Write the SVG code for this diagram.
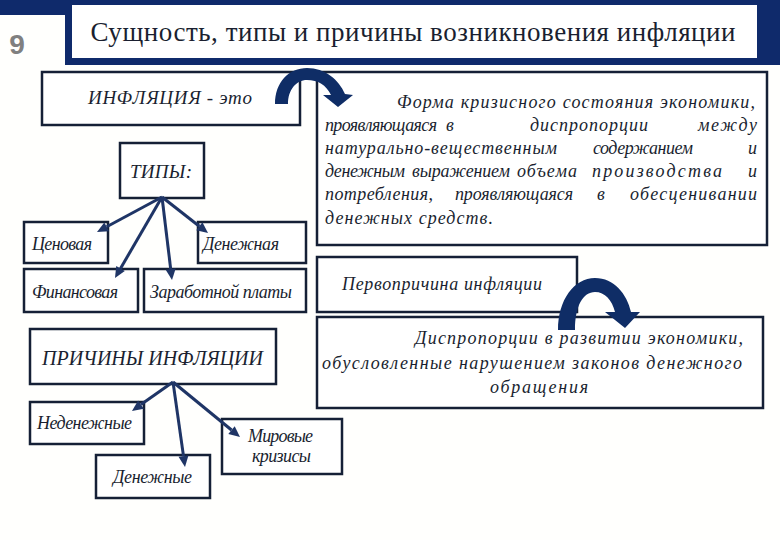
<svg xmlns="http://www.w3.org/2000/svg" width="780" height="540" viewBox="0 0 780 540">
<defs>
<style>
.box{fill:#ffffff;stroke:#152036;stroke-width:2.5}
.con{stroke:#1f3566;stroke-width:3;fill:none}
.head{fill:#1f3566}
.navy{fill:#0f2a6b}
.curve{fill:#0f2d66}
</style>
</defs>
<rect width="780" height="540" fill="#fffffd"/>

<g id="header">
<rect class="navy" x="0" y="0" width="780" height="15"/>
<rect class="navy" x="65" y="0" width="715" height="65"/>
<rect x="72" y="5" width="685" height="53" fill="#ffffff"/>
<text x="413" y="41" text-anchor="middle" font-family="Liberation Serif, serif" font-size="27" fill="#1a1f30" textLength="645" lengthAdjust="spacing">Сущность, типы и причины возникновения инфляции</text>
<text x="17" y="54" text-anchor="middle" font-family="Liberation Sans, Arial, sans-serif" font-weight="bold" font-size="28" fill="#808080">9</text>
</g>

<g id="nodes">

<g id="node-inflation">
<rect class="box" x="42" y="72" width="258" height="53"/>
<text x="88" y="104" font-family="Liberation Serif, serif" font-style="italic" font-size="19" fill="#1a1f30" textLength="164" lengthAdjust="spacing">ИНФЛЯЦИЯ - это</text>
</g>

<g id="node-definition">
<rect class="box" x="317" y="72" width="450" height="173"/>
<text x="397" y="108" font-family="Liberation Serif, serif" font-style="italic" font-size="18" fill="#1a1f30" textLength="358" lengthAdjust="spacing">Форма кризисного состояния экономики,</text>
<text x="325" y="131" font-family="Liberation Serif, serif" font-style="italic" font-size="18" fill="#1a1f30" textLength="112" lengthAdjust="spacing">проявляющаяся</text>
<text x="446" y="131" font-family="Liberation Serif, serif" font-style="italic" font-size="18" fill="#1a1f30">в</text>
<text x="530" y="131" font-family="Liberation Serif, serif" font-style="italic" font-size="18" fill="#1a1f30" textLength="118" lengthAdjust="spacing">диспропорции</text>
<text x="698" y="131" font-family="Liberation Serif, serif" font-style="italic" font-size="18" fill="#1a1f30" textLength="59" lengthAdjust="spacing">между</text>
<text x="325" y="154" font-family="Liberation Serif, serif" font-style="italic" font-size="18" fill="#1a1f30" textLength="232" lengthAdjust="spacing">натурально-вещественным</text>
<text x="593" y="154" font-family="Liberation Serif, serif" font-style="italic" font-size="18" fill="#1a1f30" textLength="100" lengthAdjust="spacing">содержанием</text>
<text x="757" y="154" font-family="Liberation Serif, serif" font-style="italic" font-size="18" fill="#1a1f30" text-anchor="end">и</text>
<text x="325" y="177" font-family="Liberation Serif, serif" font-style="italic" font-size="18" fill="#1a1f30" textLength="80" lengthAdjust="spacing">денежным</text>
<text x="412" y="177" font-family="Liberation Serif, serif" font-style="italic" font-size="18" fill="#1a1f30" textLength="98" lengthAdjust="spacing">выражением</text>
<text x="517" y="177" font-family="Liberation Serif, serif" font-style="italic" font-size="18" fill="#1a1f30" textLength="60" lengthAdjust="spacing">объема</text>
<text x="592" y="177" font-family="Liberation Serif, serif" font-style="italic" font-size="18" fill="#1a1f30" textLength="130" lengthAdjust="spacing">производства</text>
<text x="757" y="177" font-family="Liberation Serif, serif" font-style="italic" font-size="18" fill="#1a1f30" text-anchor="end">и</text>
<text x="325" y="200" font-family="Liberation Serif, serif" font-style="italic" font-size="18" fill="#1a1f30" textLength="108" lengthAdjust="spacing">потребления,</text>
<text x="455" y="200" font-family="Liberation Serif, serif" font-style="italic" font-size="18" fill="#1a1f30" textLength="118" lengthAdjust="spacing">проявляющаяся</text>
<text x="597" y="200" font-family="Liberation Serif, serif" font-style="italic" font-size="18" fill="#1a1f30">в</text>
<text x="630" y="200" font-family="Liberation Serif, serif" font-style="italic" font-size="18" fill="#1a1f30" textLength="127" lengthAdjust="spacing">обесценивании</text>
<text x="325" y="224" font-family="Liberation Serif, serif" font-style="italic" font-size="18" fill="#1a1f30" textLength="168" lengthAdjust="spacing">денежных средств.</text>
</g>

<g id="node-types">
<rect class="box" x="120" y="143" width="84" height="55"/>
<text x="130" y="178" font-family="Liberation Serif, serif" font-style="italic" font-size="19" fill="#1a1f30" textLength="62" lengthAdjust="spacing">ТИПЫ:</text>
</g>

<g id="node-price">
<rect class="box" x="24" y="222" width="84" height="41"/>
<text x="32" y="250" font-family="Liberation Serif, serif" font-style="italic" font-size="18" fill="#1a1f30" textLength="60" lengthAdjust="spacing">Ценовая</text>
</g>

<g id="node-monetary">
<rect class="box" x="198" y="222" width="108" height="41"/>
<text x="203" y="250" font-family="Liberation Serif, serif" font-style="italic" font-size="18" fill="#1a1f30" textLength="76" lengthAdjust="spacing">Денежная</text>
</g>

<g id="node-financial">
<rect class="box" x="24" y="269" width="114" height="43"/>
<text x="32" y="298" font-family="Liberation Serif, serif" font-style="italic" font-size="18" fill="#1a1f30" textLength="86" lengthAdjust="spacing">Финансовая</text>
</g>

<g id="node-wage">
<rect class="box" x="144" y="269" width="162" height="43"/>
<text x="150" y="298" font-family="Liberation Serif, serif" font-style="italic" font-size="18" fill="#1a1f30" textLength="142" lengthAdjust="spacing">Заработной платы</text>
</g>

<g id="node-root-cause">
<rect class="box" x="317" y="257" width="260" height="55"/>
<text x="342" y="290" font-family="Liberation Serif, serif" font-style="italic" font-size="18" fill="#1a1f30" textLength="200" lengthAdjust="spacing">Первопричина инфляции</text>
</g>

<g id="node-disproportion">
<rect class="box" x="317" y="317" width="446" height="91"/>
<text x="415" y="344" font-family="Liberation Serif, serif" font-style="italic" font-size="18" fill="#1a1f30" textLength="328" lengthAdjust="spacing">Диспропорции в развитии экономики,</text>
<text x="322" y="369" font-family="Liberation Serif, serif" font-style="italic" font-size="18" fill="#1a1f30" textLength="420" lengthAdjust="spacing">обусловленные нарушением законов денежного</text>
<text x="490" y="393" font-family="Liberation Serif, serif" font-style="italic" font-size="18" fill="#1a1f30" textLength="98" lengthAdjust="spacing">обращения</text>
</g>

<g id="node-causes">
<rect class="box" x="30" y="329" width="246" height="55"/>
<text x="42" y="365" font-family="Liberation Serif, serif" font-style="italic" font-size="20" fill="#1a1f30" textLength="221" lengthAdjust="spacing">ПРИЧИНЫ ИНФЛЯЦИИ</text>
</g>

<g id="node-nonmonetary">
<rect class="box" x="30" y="402" width="114" height="42"/>
<text x="37" y="429" font-family="Liberation Serif, serif" font-style="italic" font-size="18" fill="#1a1f30" textLength="95" lengthAdjust="spacing">Неденежные</text>
</g>

<g id="node-monetary-causes">
<rect class="box" x="96" y="455" width="114" height="43"/>
<text x="113" y="483" font-family="Liberation Serif, serif" font-style="italic" font-size="18" fill="#1a1f30" textLength="79" lengthAdjust="spacing">Денежные</text>
</g>

<g id="node-world-crises">
<rect class="box" x="222" y="419" width="120" height="55"/>
<text x="248" y="442" font-family="Liberation Serif, serif" font-style="italic" font-size="18" fill="#1a1f30" textLength="65" lengthAdjust="spacing">Мировые</text>
<text x="252" y="462" font-family="Liberation Serif, serif" font-style="italic" font-size="18" fill="#1a1f30" textLength="59" lengthAdjust="spacing">кризисы</text>
</g>

</g>

<g id="connectors">
<line class="con" x1="162" y1="197" x2="106.7" y2="226.8"/>
<polygon class="head" points="97,232 104.3,222.4 109.1,231.2"/>
<line class="con" x1="162" y1="197" x2="120.5" y2="268.5"/>
<polygon class="head" points="115,278 116.2,266.0 124.8,271.0"/>
<line class="con" x1="162" y1="197" x2="170.7" y2="269.1"/>
<polygon class="head" points="172,280 165.7,269.7 175.7,268.5"/>
<line class="con" x1="162" y1="197" x2="199.3" y2="226.2"/>
<polygon class="head" points="208,233 196.2,230.2 202.4,222.3"/>
<line class="con" x1="173" y1="382" x2="141.0" y2="404.6"/>
<polygon class="head" points="132,411 138.1,400.6 143.9,408.7"/>
<line class="con" x1="173" y1="382" x2="183.5" y2="456.1"/>
<polygon class="head" points="185,467 178.5,456.8 188.4,455.4"/>
<line class="con" x1="173" y1="382" x2="231.5" y2="430.0"/>
<polygon class="head" points="240,437 228.3,433.9 234.7,426.2"/>
</g>

<g id="arrow-curve-1">
<path class="curve" d="M275,104 C275,82 289,68 307,68 C325,68 339,80 345,94 L353,95 L338,107 L323,95 L331,95 C326,85 318,80 307,80 C296,80 288,90 288,104 Z"/>
</g>

<g id="arrow-curve-2">
<path class="curve" d="M558,330 C558,300 574,278 595,278 C614,278 627,294 631,312 L640,312 L625,328 L605,312 L615,312 C612,300 605,292 595,292 C583,292 575,306 575,330 Z"/>
</g>
</svg>
